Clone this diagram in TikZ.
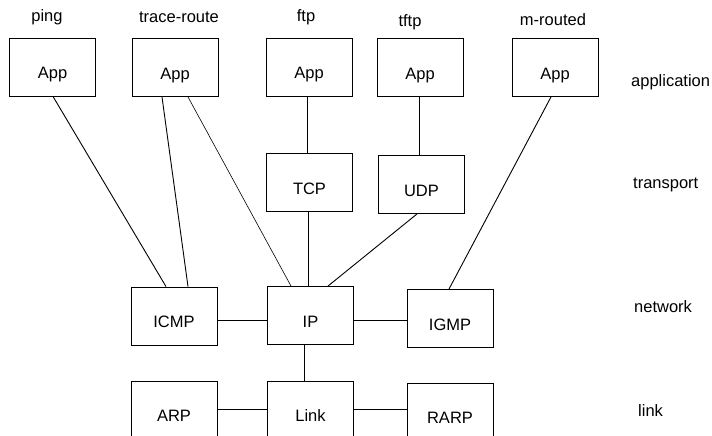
\documentclass[tikz,border=0pt]{standalone}
\usepackage{fontspec}
\setmainfont{Liberation Sans}
\begin{document}
\begin{tikzpicture}[x=1pt,y=-1pt,
  box/.style={draw,line width=0.9pt,minimum width=86pt,minimum height=58pt,inner sep=0pt,
    text height=23pt,text depth=0pt,font=\fontsize{16.5}{18}\selectfont},
  lbl/.style={font=\fontsize{16.5}{18}\selectfont,inner sep=0pt},
  conn/.style={line width=0.9pt},
  thin/.style={line width=0.6pt}]
\path[use as bounding box,clip] (0,0) rectangle (712,436);
\fill[white] (0,0) rectangle (712,436);
% application row
\node[box] (pingapp) at (52.5,67) {App};
\node[box] (trapp) at (175,67.5) {App};
\node[box] (ftpapp) at (309,67) {App};
\node[box] (tftpapp) at (420,67.5) {App};
\node[box] (mrapp) at (555,67.5) {App};
\node[lbl] (lping) at (47,17) {ping};
\node[lbl] (ltr) at (179,17) {trace-route};
\node[lbl] (lftp) at (306,17) {ftp};
\node[lbl] (ltftp) at (410,22) {tftp};
\node[lbl] (lmr) at (553,20) {m-routed};
% transport row
\node[box] (tcp) at (309.5,182.5) {TCP};
\node[box] (udp) at (421.5,184.5) {UDP};
% network row
\node[box] (icmp) at (174,316) {ICMP};
\node[box] (ip) at (310.5,315.5) {IP};
\node[box] (igmp) at (450,318.5) {IGMP};
% link row
\node[box] (arp) at (174,410) {ARP};
\node[box] (link) at (310.5,410) {Link};
\node[box] (rarp) at (450,412) {RARP};
% layer labels
\node[lbl,anchor=west] (lapp) at (631,82) {application};
\node[lbl,anchor=west] (ltrans) at (633,185) {transport};
\node[lbl,anchor=west] (lnet) at (634,307) {network};
\node[lbl,anchor=west] (llink) at (638,411) {link};
% connectors
\draw[conn] ([xshift=0.5pt]pingapp.south) -- ([xshift=-8pt]icmp.north);
\draw[conn] ([xshift=-13pt]trapp.south) -- ([xshift=14pt]icmp.north);
\draw[thin] ([xshift=13pt]trapp.south) -- ([xshift=-19.5pt]ip.north);
\draw[thin] ([xshift=-2pt]ftpapp.south) -- ([xshift=-2.5pt]tcp.north);
\draw[conn] ([xshift=-1pt]tftpapp.south) -- ([xshift=-2.5pt]udp.north);
\draw[conn] ([xshift=-4pt]mrapp.south) -- ([xshift=-1pt]igmp.north);
\draw[conn] ([xshift=-1.5pt]tcp.south) -- ([xshift=-2.5pt]ip.north);
\draw[conn] ([xshift=-4.5pt]udp.south) -- ([xshift=17.5pt]ip.north);
\draw[conn] ([yshift=-4pt]icmp.east) -- ([yshift=-4pt]icmp.east -| ip.west);
\draw[conn] ([yshift=-4.5pt]ip.east) -- ([yshift=-4.5pt]ip.east -| igmp.west);
\draw[conn] ([xshift=-6.5pt]ip.south) -- ([xshift=-6.5pt]ip.south |- link.north);
\draw[conn] ([yshift=1pt]arp.east) -- ([yshift=1pt]arp.east -| link.west);
\draw[conn] ([yshift=1pt]link.east) -- ([yshift=1pt]link.east -| rarp.west);
\end{tikzpicture}
\end{document}
